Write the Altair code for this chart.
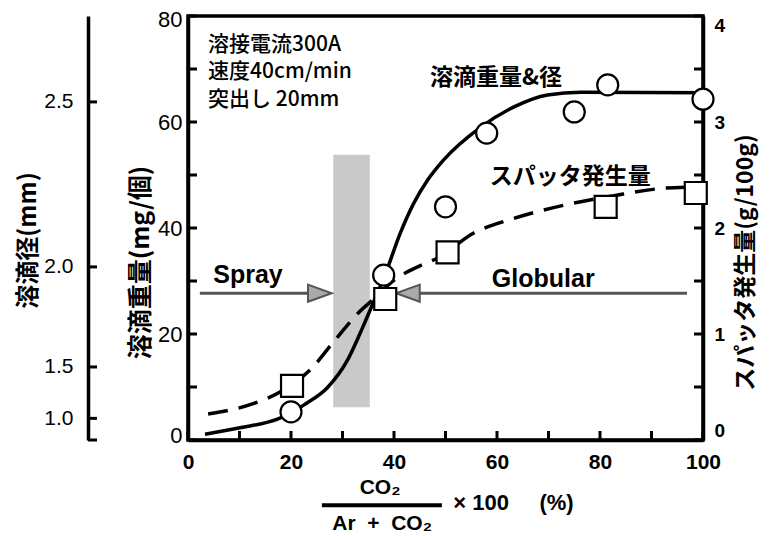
import altair as alt
import pandas as pd

LAT = "Liberation Sans, Arial, Noto Sans CJK JP, sans-serif"
JP = "Noto Sans CJK JP, Liberation Sans, sans-serif"
NB = "\u00a0"

# ---------------- data ----------------
# drop weight (mg/個) measured points  (circles)
drop_x = [20, 38, 50, 58, 75, 81.5, 100]
drop_w = [5.3, 31.1, 44.0, 57.9, 61.9, 67.0, 64.3]

# spatter (g/100g) measured points (squares)
spat_x = [20.2, 38.3, 50.4, 81.1, 98.6]
spat_g = [0.51, 1.33, 1.77, 2.20, 2.33]

# drawn trend curves
wcurve_x = [3.3, 10.1, 17.5, 20.0, 22.8, 27.0, 31.1, 33.9, 36.4, 38.2, 41.2,
            43.8, 46.5, 49.6, 56.8, 63.2, 69.8, 76.3, 100]
wcurve_w = [1.1, 2.3, 4.0, 5.1, 6.8, 9.8, 15.3, 21.2, 26.9, 31.0, 39.0,
            44.6, 49.0, 52.8, 59.0, 62.8, 65.1, 65.6, 65.5]

scurve_x = [3.9, 12.5, 18.3, 24.1, 28.0, 33.1, 36.4, 39.8, 45.1, 48.6, 55.4,
            63.2, 73.0, 82.7, 92.4, 97.1]
scurve_g = [0.245, 0.34, 0.465, 0.68, 0.91, 1.20, 1.345, 1.50, 1.645, 1.72,
            1.95, 2.09, 2.215, 2.305, 2.375, 2.385]

# transition band (x range, weight range)
band_x = [28.2, 35.3]
band_w = [6.2, 53.8]

# arrows
arrow_from = [2.3, 96.9]
arrow_to = [23.3, 45.0]
arrow_head = [25.6, 42.7]
arrow_w = [27.7, 27.7]

# axis tick values
x_ticks = list(range(0, 101, 10))
w_ticks = list(range(0, 81, 10))
s_ticks = [0, 0.5, 1, 1.5, 2, 2.5, 3, 3.5, 4]
d_ticks = [0, 1.0, 1.5, 2.0, 2.5]

# annotation texts (x in %, y in mg scale)
box_text = ["溶接電流300A", "速度40cm/min", "突出し 20mm"]
box_x = [3.9, 3.9, 3.9]
box_y = [74.5, 69.4, 64.2]

curve_label = ["溶滴重量&径", "スパッタ発生量"]
curve_label_x = [47.0, 58.6]
curve_label_y = [68.3, 49.6]

mode_label = ["Spray", "Globular"]
mode_label_x = [4.9, 59.0]
mode_label_y = [29.6, 28.9]

xt_text = ["CO₂", "Ar" + NB * 2 + "+" + NB * 2 + "CO₂"]
xt_x = [37.3, 37.7]
xt_y = [-9.1, -15.8]
xt_tail = ["×" + NB + "100" + NB * 5 + "(%)"]
xt_tail_x = [51.5]
xt_tail_y = [-11.9]
frac_x = [26.0]
frac_x2 = [49.3]
frac_y = [-12.3]

# ---------------- scales / axes ----------------
W, H = 515, 424
XS = alt.Scale(domain=[0, 100], nice=False, zero=False)
WS = alt.Scale(domain=[0, 80], nice=False, zero=False)
SS = alt.Scale(domain=[0, 4], nice=False, zero=False)
DS = alt.Scale(type="pow", exponent=3, domain=[0, 2.696], nice=False, zero=False)

common = dict(grid=False, ticks=False, domainColor="black", domainWidth=3.5,
              labelColor="black", labelOverlap=False, labelBound=False)

x_axis = alt.Axis(orient="bottom", values=x_ticks,
                  labelExpr="datum.value % 20 === 0 ? datum.label : ''",
                  title=None, labelFont=LAT, labelFontSize=21, labelFontWeight="bold",
                  labelPadding=11, labelFlush=False, **common)

w_axis = alt.Axis(orient="left", values=w_ticks,
                  labelExpr="datum.value % 20 === 0 ? datum.label : ''",
                  title="溶滴重量(mg/個)", titleFont=JP, titleFontSize=25, titleFontWeight="bold",
                  titleColor="black", titleAngle=270, titleAlign="center", titleBaseline="middle",
                  titleX=-48, titleY=246,
                  labelFont=LAT, labelFontSize=22, labelFontWeight="normal", labelPadding=6,
                  labelFlush=True, labelFlushOffset=7, **common)

s_axis = alt.Axis(orient="right", values=s_ticks,
                  labelExpr="datum.value % 1 === 0 ? format(datum.value, 'd') : ''",
                  title="スパッタ発生量(g/100g)", titleFont=JP, titleFontSize=23,
                  titleFontWeight="bold", titleColor="black", titleAngle=270,
                  titleAlign="center", titleBaseline="middle", titleX=42, titleY=246,
                  labelFont=LAT, labelFontSize=19, labelFontWeight="bold", labelPadding=11,
                  labelFlush=True, **common)

d_axis = alt.Axis(orient="left", offset=100, values=d_ticks,
                  labelExpr="datum.value === 0 ? '' : format(datum.value, '.1f')",
                  title="溶滴径(mm)", titleFont=JP, titleFontSize=24, titleFontWeight="bold",
                  titleColor="black", titleAngle=270, titleAlign="center", titleBaseline="middle",
                  titleX=-60, titleY=224,
                  labelFont=LAT, labelFontSize=21, labelFontWeight="normal", labelPadding=15,
                  labelFlush=False, **common)


def X(field):
    # every layer carries the same x axis definition so that they merge into one
    return alt.X(field, scale=XS, axis=x_axis)


# ---------------- layers ----------------
band = alt.Chart(pd.DataFrame({"x1": [band_x[0]], "x2": [band_x[1]],
                               "w1": [band_w[0]], "w2": [band_w[1]]})).mark_rect(
    color="#c9c9c9").encode(
    x=X("x1:Q"), x2="x2:Q",
    y=alt.Y("w1:Q", scale=WS, axis=None), y2="w2:Q")

# inward tick marks drawn from the tick value arrays through the scales
tick_style = dict(color="black", strokeWidth=3)
xtick = alt.Chart(pd.DataFrame({"v": x_ticks})).mark_rule(**tick_style).encode(
    x=X("v:Q"), y=alt.value(H), y2=alt.value(H - 9))
wtick = alt.Chart(pd.DataFrame({"v": w_ticks})).mark_rule(**tick_style).encode(
    y=alt.Y("v:Q", scale=WS, axis=None), x=alt.value(0), x2=alt.value(9))
stick = alt.Chart(pd.DataFrame({"v": s_ticks})).mark_rule(**tick_style).encode(
    y=alt.Y("v:Q", scale=SS, axis=None), x=alt.value(W), x2=alt.value(W - 9))
dtick = alt.Chart(pd.DataFrame({"v": d_ticks})).mark_rule(**tick_style).encode(
    y=alt.Y("v:Q", scale=DS, axis=d_axis), x=alt.value(-100), x2=alt.value(-91))

arrows_df = pd.DataFrame({"a": arrow_from, "b": arrow_to, "h": arrow_head, "w": arrow_w})
arrow_lines = alt.Chart(arrows_df).mark_rule(color="#555555", strokeWidth=3).encode(
    x=X("a:Q"), x2="b:Q",
    y=alt.Y("w:Q", scale=WS, axis=None))

heads_r = alt.Chart(arrows_df.iloc[[0]]).mark_point(
    shape="M-1,-0.72L1,0L-1,0.72Z", filled=True, fill="#aaaaaa", stroke="#555555",
    strokeWidth=2, size=560, opacity=1).encode(
    x=X("h:Q"), y=alt.Y("w:Q", scale=WS, axis=None))
heads_l = alt.Chart(arrows_df.iloc[[1]]).mark_point(
    shape="M1,-0.72L-1,0L1,0.72Z", filled=True, fill="#aaaaaa", stroke="#555555",
    strokeWidth=2, size=560, opacity=1).encode(
    x=X("h:Q"), y=alt.Y("w:Q", scale=WS, axis=None))

wline = alt.Chart(pd.DataFrame({"x": wcurve_x, "w": wcurve_w})).mark_line(
    color="black", strokeWidth=3.5, interpolate="monotone").encode(
    x=X("x:Q"), y=alt.Y("w:Q", scale=WS, axis=w_axis))

sline = alt.Chart(pd.DataFrame({"x": scurve_x, "g": scurve_g})).mark_line(
    color="black", strokeWidth=3.5, strokeDash=[20, 11], interpolate="monotone").encode(
    x=X("x:Q"), y=alt.Y("g:Q", scale=SS, axis=s_axis))

circles = alt.Chart(pd.DataFrame({"x": drop_x, "w": drop_w})).mark_point(
    shape="circle", filled=True, fill="white", stroke="black", strokeWidth=2.2,
    size=441, opacity=1).encode(
    x=X("x:Q"), y=alt.Y("w:Q", scale=WS, axis=None))

squares = alt.Chart(pd.DataFrame({"x": spat_x, "g": spat_g})).mark_point(
    shape="square", filled=True, fill="white", stroke="black", strokeWidth=2.2,
    size=484, opacity=1).encode(
    x=X("x:Q"), y=alt.Y("g:Q", scale=SS, axis=None))


def text_layer(texts, xs, ys, font, size, weight, align="left", baseline="middle"):
    return alt.Chart(pd.DataFrame({"t": texts, "x": xs, "y": ys})).mark_text(
        font=font, fontSize=size, fontWeight=weight, align=align, baseline=baseline,
        color="black").encode(
        x=X("x:Q"), y=alt.Y("y:Q", scale=WS, axis=None),
        text="t:N")


box = text_layer(box_text, box_x, box_y, JP, 21, 500)
clabels = text_layer(curve_label, curve_label_x, curve_label_y, JP, 23, "bold")
mlabels = text_layer(mode_label, mode_label_x, mode_label_y, LAT, 25, "bold",
                     baseline="alphabetic")
xt = text_layer(xt_text, xt_x, xt_y, LAT, 21, "bold", align="center")
xtail = text_layer(xt_tail, xt_tail_x, xt_tail_y, LAT, 22, "bold")

frac = alt.Chart(pd.DataFrame({"a": frac_x, "b": frac_x2, "y": frac_y})).mark_rule(
    color="black", strokeWidth=4).encode(
    x=X("a:Q"), x2="b:Q",
    y=alt.Y("y:Q", scale=WS, axis=None))

chart = alt.layer(
    band, xtick, wtick, stick, dtick, arrow_lines, heads_r, heads_l, wline, sline,
    circles, squares, box, clabels, mlabels, xt, xtail, frac
).resolve_scale(y="independent").properties(
    width=W, height=H,
    autosize=alt.AutoSizeParams(type="none"),
    padding={"left": 180, "top": 8, "right": 62, "bottom": 104},
    background="white",
).configure_view(stroke="black", strokeWidth=3.5)

chart.save("out.html", embed_options={"renderer": "svg", "actions": False})
